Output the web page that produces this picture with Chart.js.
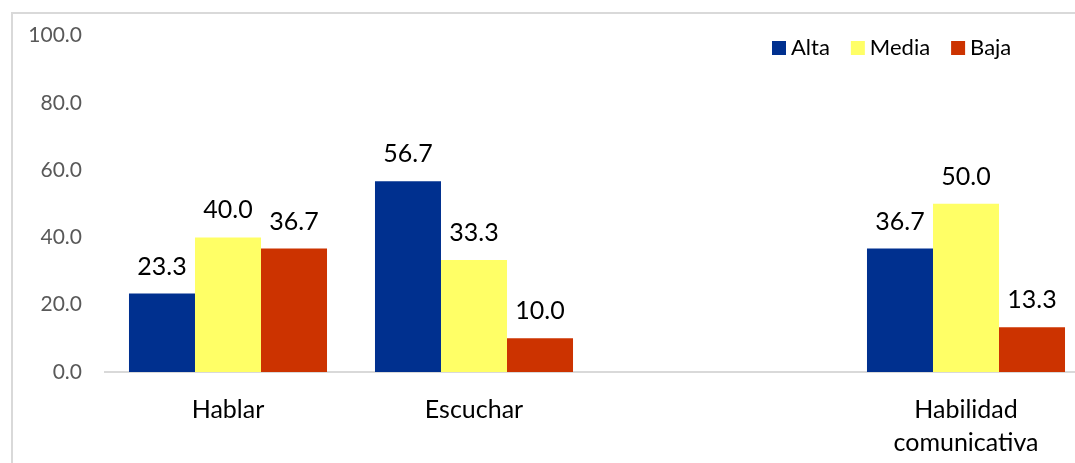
<!DOCTYPE html>
<html><head><meta charset="utf-8">
<script src="https://cdn.jsdelivr.net/npm/chart.js@4"></script>
<style>
html,body{margin:0;padding:0;background:#fff;overflow:hidden;width:1075px;height:463px;}
#frame{position:absolute;left:11px;top:12px;width:2000px;height:2000px;border:2px solid #d9d9d9;box-sizing:border-box;}
#wrap{position:absolute;left:0;top:0;width:1100px;height:463px;}
</style></head>
<body>
<div id="frame"></div>
<div id="wrap"><canvas id="c"></canvas></div>
<script>
const categories = ['Hablar', 'Escuchar', '', ['Habilidad', 'comunicativa']];
const seriesNames = ['Alta', 'Media', 'Baja'];
const alta = [23.3, 56.7, null, 36.7];
const media = [40.0, 33.3, null, 50.0];
const baja = [36.7, 10.0, null, 13.3];
const colors = ['#00308F', '#FFFF66', '#CC3300'];
const yTicks = [0, 20, 40, 60, 80, 100];

const FONT = 'Lato, Carlito, Calibri, sans-serif';

const labelPlugin = {
  id: 'labels',
  afterDatasetsDraw(chart) {
    const ctx = chart.ctx;
    ctx.save();
    ctx.font = '25px ' + FONT;
    ctx.fillStyle = '#000';
    ctx.textAlign = 'center';
    ctx.textBaseline = 'alphabetic';
    chart.data.datasets.forEach((ds, i) => {
      const meta = chart.getDatasetMeta(i);
      meta.data.forEach((bar, j) => {
        const v = ds.data[j];
        if (v === null || v === undefined) return;
        ctx.fillText(v.toFixed(1), bar.x, bar.y - 19);
      });
    });
    ctx.restore();
  }
};

const legendPlugin = {
  id: 'customLegend',
  afterDraw(chart) {
    const ctx = chart.ctx;
    ctx.save();
    ctx.font = '22px ' + FONT;
    ctx.textBaseline = 'alphabetic';
    ctx.textAlign = 'left';
    let x = 772;
    chart.data.datasets.forEach((ds) => {
      ctx.fillStyle = ds.backgroundColor;
      ctx.fillRect(x, 41, 14, 14);
      x += 19;
      ctx.fillStyle = '#000';
      ctx.fillText(ds.label, x, 55);
      x += ctx.measureText(ds.label).width + 21;
    });
    ctx.restore();
  }
};

new Chart(document.getElementById('c'), {
  type: 'bar',
  data: {
    labels: categories,
    datasets: [
      { label: seriesNames[0], data: alta, backgroundColor: colors[0] },
      { label: seriesNames[1], data: media, backgroundColor: colors[1] },
      { label: seriesNames[2], data: baja, backgroundColor: colors[2] }
    ]
  },
  options: {
    responsive: true,
    maintainAspectRatio: false,
    animation: false,
    layout: { padding: { top: 32, right: 11, left: 0, bottom: 0 } },
    datasets: { bar: { categoryPercentage: 0.805, barPercentage: 1.0, borderWidth: 0 } },
    plugins: { legend: { display: false }, tooltip: { enabled: false } },
    scales: {
      x: {
        grid: { display: false, drawTicks: false },
        border: { display: true, color: '#d9d9d9', width: 2 },
        ticks: { font: { family: FONT, size: 25, lineHeight: 1.3 }, color: '#000', padding: 22, maxRotation: 0, autoSkip: false },
        afterFit(s) { s.height = 91; }
      },
      y: {
        min: 0, max: 100,
        afterBuildTicks(s) { s.ticks = yTicks.map(v => ({ value: v })); },
        grid: { display: false, drawTicks: false },
        border: { display: false },
        ticks: { font: { family: FONT, size: 21 }, color: '#595959', padding: 23, callback: v => Number(v).toFixed(1) },
        afterFit(s) { s.width = 105; }
      }
    }
  },
  plugins: [labelPlugin, legendPlugin]
});
</script>
</body></html>
